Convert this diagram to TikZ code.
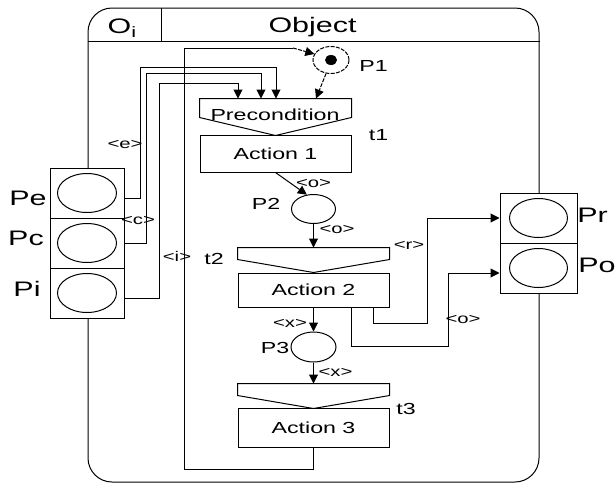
\documentclass[tikz,border=0pt]{standalone}
\usepackage{fontspec}
\setmainfont{Liberation Sans}[FakeStretch=1.45]
\usetikzlibrary{shapes.geometric,arrows.meta,calc}

\begin{document}
\begin{tikzpicture}[x=1pt,y=-1pt,line width=1pt,
  arr/.style={-{Triangle[length=9pt,width=9pt]}},
  dsh/.style={dash pattern=on 4pt off 1.3pt},
  place/.style={draw,ellipse,inner sep=0pt,minimum width=44pt,minimum height=29pt},
  portplace/.style={draw,ellipse,inner sep=0pt,minimum width=59pt,minimum height=39pt},
  cell/.style={draw,fill=white,rectangle,inner sep=0pt,minimum height=50pt},
  act/.style={draw,rectangle,inner sep=0pt,minimum width=151pt,font=\fontsize{16}{16}\selectfont},
  tbox/.style={rectangle,inner sep=0pt,minimum width=151pt},
  lbl/.style={inner sep=0pt,anchor=base,font=\fontsize{14}{14}\selectfont},
  nm/.style={inner sep=0pt,anchor=base,font=\fontsize{16}{16}\selectfont},
  big/.style={inner sep=0pt,anchor=base,font=\fontsize{21}{21}\selectfont},
]
\useasboundingbox (0,0) rectangle (616,485);

% object frame with its header
\node[draw,rounded corners=24pt,minimum width=451pt,minimum height=474pt,inner sep=0pt] (obj) at (313.5,245) {};
\draw ([yshift=-34pt]obj.north west) -- ([yshift=-34pt]obj.north east);
\draw ([xshift=74pt]obj.north west) -- ([xshift=74pt,yshift=-34pt]obj.north west);
\node[big] (oi) at (122,33) {O\raisebox{-4pt}{\fontsize{15}{15}\selectfont i}};
\node[big] (objname) at (312.5,32) {Object};

% transitions (header shapes) and their actions
\node[tbox,minimum height=36pt] (pre) at (275.5,117) {};
\draw (pre.north west) -- (pre.north east) -- ([yshift=-19pt]pre.north east) -- (pre.south) -- ([yshift=-19pt]pre.north west) -- cycle;
\node[nm] (pretxt) at (275,120) {Precondition};
\node[act,minimum height=37pt] (a1) at (275.5,153.5) {Action 1};

\node[tbox,minimum height=24pt] (t2) at (313.5,260) {};
\draw (t2.north west) -- (t2.north east) -- ([yshift=-12pt]t2.north east) -- (t2.south) -- ([yshift=-12pt]t2.north west) -- cycle;
\node[act,minimum height=34pt] (a2) at (313.5,290) {Action 2};

\node[tbox,minimum height=24pt] (t3) at (313.5,396) {};
\draw (t3.north west) -- (t3.north east) -- ([yshift=-12pt]t3.north east) -- (t3.south) -- ([yshift=-12pt]t3.north west) -- cycle;
\node[act,minimum height=39pt] (a3) at (313.5,427.5) {Action 3};

% places
\node[place,dsh,minimum width=36pt,minimum height=27pt] (p1) at (331,60) {};
\fill (p1.center) ellipse [x radius=6pt,y radius=5pt];
\node[place] (p2) at (313.5,209) {};
\node[place,minimum width=45pt,minimum height=30pt] (p3) at (313.5,347) {};

% input ports
\node[cell,minimum width=74pt] (ce) at (87,193) {};
\node[cell,minimum width=74pt] (cc) at (87,243) {};
\node[cell,minimum width=74pt] (ci) at (87,293) {};
\node[portplace] (pe) at (ce) {};
\node[portplace] (pc) at (cc) {};
\node[portplace] (pi) at (ci) {};

% output ports
\node[cell,minimum width=77pt] (cr) at (538.5,218) {};
\node[cell,minimum width=77pt] (co) at (538.5,268) {};
\node[portplace,minimum width=58pt] (pr) at (cr) {};
\node[portplace,minimum width=58pt] (po) at (co) {};

% arc end points on the precondition
\coordinate (inE) at ([xshift=0.5pt]pre.north);
\coordinate (inC) at ([xshift=-14.5pt]pre.north);
\coordinate (inI) at ([xshift=-37.5pt]pre.north);
\coordinate (inP) at ([xshift=40.5pt]pre.north);

% arcs from the input ports
\draw[arr] ([yshift=-5pt]ce.east) -| (140,67) -| (inE);
\draw[arr] (cc.east) -| (146,73) -| (inC);
\draw[arr] ([yshift=-5pt]ci.east) -| (159,83) -| (inI);

% feedback arc from Action 3 back to P1
\coordinate (fb) at (293,48);
\draw (a3.south) -- ++(0,22) -| (184,48) -- (fb);
\draw[arr,dsh] (fb) -- (p1.160);
\draw[arr,dsh] (p1.250) -- (inP);

% internal flow
\draw[arr] (a1.south) -- (p2.115);
\draw[arr] (p2.south) -- (t2.north);
\draw[arr] (a2.south) -- (p3.north);
\draw[arr] (p3.south) -- (t3.north);

% arcs to the output ports
\draw[arr] ([xshift=59.5pt]a2.south) |- (427,323) |- (cr.west);
\draw[arr] ([xshift=37.5pt]a2.south) |- (448,346) |- ([yshift=-5pt]co.west);

% place and transition names
\node[nm] (lp1) at (373.5,71) {P1};
\node[nm] (lp2) at (266,209) {P2};
\node[nm] (lp3) at (275,353) {P3};
\node[nm] (lt1) at (378.5,140) {t1};
\node[nm] (lt2) at (214,264) {t2};
\node[nm] (lt3) at (406,414) {t3};
\node[big] (lpe) at (28,205) {Pe};
\node[big] (lpc) at (26,245) {Pc};
\node[big] (lpi) at (27,296) {Pi};
\node[big] (lpr) at (592.5,222) {Pr};
\node[big] (lpo) at (597,272) {Po};

% arc inscriptions
\node[lbl] (ie) at (125,148) {<e>};
\node[lbl] (ic) at (138,224) {<c>};
\node[lbl] (ii) at (177,261) {<i>};
\node[lbl] (io1) at (313.5,187) {<o>};
\node[lbl] (io2) at (337,233) {<o>};
\node[lbl] (ir) at (409,249) {<r>};
\node[lbl] (ix1) at (290,327) {<x>};
\node[lbl] (ix2) at (335.5,376) {<x>};
\node[lbl] (io3) at (463,323) {<o>};
\end{tikzpicture}
\end{document}
